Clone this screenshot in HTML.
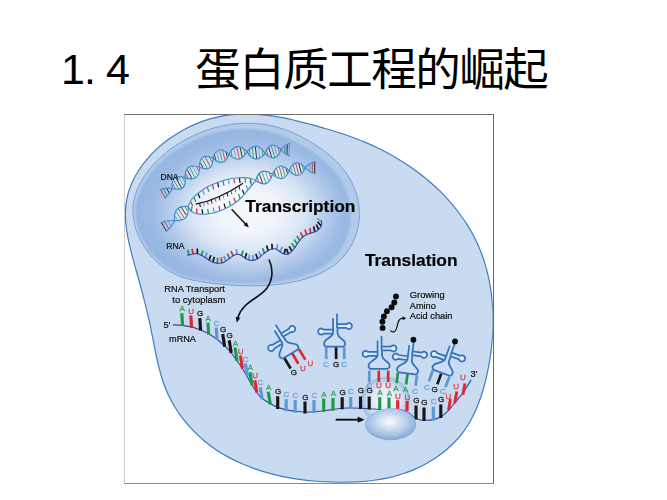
<!DOCTYPE html><html lang="zh"><head><meta charset="utf-8"><title>1.4 蛋白质工程的崛起</title><style>html,body{margin:0;padding:0;background:#fff;}body{width:667px;height:500px;position:relative;overflow:hidden;font-family:"Liberation Sans",sans-serif;}#fig{position:absolute;left:0;top:0;width:667px;height:500px;}#frame{position:absolute;left:123.5px;top:113.6px;width:368.8px;height:368.6px;border-style:solid;border-width:1.1px 1.3px 1.2px 1.1px;border-color:#6f6f6f #666 #8a8a8a #cdcdcd;box-sizing:content-box;}h1{position:absolute;left:64px;top:46px;margin:0;font-weight:normal;font-size:44px;line-height:48px;white-space:pre;color:transparent;}</style></head><body><div id="fig"><svg width="667" height="500" viewBox="0 0 667 500"><defs><radialGradient id="gn" gradientUnits="userSpaceOnUse" cx="251" cy="210" r="117" gradientTransform="translate(251,210) scale(1,0.73) translate(-251,-210)"><stop offset="0" stop-color="#f7f9fd"/><stop offset="0.28" stop-color="#eff4fb"/><stop offset="0.5" stop-color="#dae6f5"/><stop offset="0.7" stop-color="#b5ccea"/><stop offset="0.86" stop-color="#9bbae3"/><stop offset="1" stop-color="#94b6e0"/></radialGradient><filter id="b2" x="-5%" y="-5%" width="110%" height="110%"><feGaussianBlur stdDeviation="1.0"/></filter><radialGradient id="gl" cx="0.5" cy="0.5" r="0.5"><stop offset="0" stop-color="#fff" stop-opacity="0.8"/><stop offset="0.5" stop-color="#e9f0f9" stop-opacity="0.75"/><stop offset="0.78" stop-color="#c6d8ef" stop-opacity="0.85"/><stop offset="0.93" stop-color="#a3c0e4" stop-opacity="0.95"/><stop offset="1" stop-color="#a0bde2" stop-opacity="0.85"/></radialGradient><filter id="b3" x="-10%" y="-10%" width="120%" height="120%"><feGaussianBlur stdDeviation="0.6"/></filter><radialGradient id="gs" cx="0.48" cy="0.42" r="0.55"><stop offset="0" stop-color="#fbfdff"/><stop offset="0.35" stop-color="#d3e2f3"/><stop offset="0.75" stop-color="#a6c3e4"/><stop offset="1" stop-color="#86abd9"/></radialGradient><filter id="bl" x="-5%" y="-5%" width="110%" height="110%"><feGaussianBlur stdDeviation="0.45"/></filter><clipPath id="cp"><rect x="124.5" y="114.7" width="368.3" height="368"/></clipPath></defs><g clip-path="url(#cp)"><g filter="url(#bl)"><path d="M224.5,115.6C229.3,114.8 234.1,114.3 239,114.1C243.8,113.8 248.6,113.9 253.4,114.1C258.2,114.3 263,114.8 267.9,115.4C272.7,116 277.5,116.8 282.3,117.7C287.1,118.6 291.8,119.7 296.6,120.8C301.4,122 306.1,123.2 310.9,124.5C315.6,125.8 320.4,127.1 325.1,128.5C329.8,129.8 334.4,131.2 339.1,132.8C343.8,134.3 348.4,135.8 353,137.5C357.6,139.2 362.1,141 366.6,142.9C371.1,144.8 375.6,146.8 380,149C384.4,151.2 388.8,153.5 393.1,155.9C397.4,158.4 401.6,161 405.7,163.7C409.9,166.4 413.9,169.2 417.9,172.2C421.8,175.2 425.7,178.2 429.4,181.5C433.1,184.7 436.8,188 440.3,191.4C443.7,194.9 447.1,198.5 450.3,202.1C453.5,205.8 456.6,209.6 459.4,213.5C462.3,217.3 465.1,221.3 467.6,225.4C470.2,229.5 472.5,233.7 474.7,238C476.9,242.3 478.9,246.7 480.6,251.2C482.4,255.6 484,260.2 485.3,264.9C486.7,269.5 487.9,274.2 488.9,279C489.9,283.7 490.7,288.6 491.3,293.4C491.9,298.3 492.4,303.2 492.7,308.1C493,313.1 493.1,318 493,323C493,328 492.8,333 492.4,338C492,342.9 491.5,347.9 490.8,352.9C490.2,357.8 489.4,362.8 488.4,367.7C487.5,372.6 486.4,377.5 485.2,382.3C483.9,387.1 482.6,391.9 481,396.5C479.4,401.2 477.7,405.8 475.8,410.2C473.8,414.6 471.6,418.9 469.2,423C466.7,427.1 464,431.1 461.1,434.8C458.1,438.5 454.8,442 451.4,445.3C447.9,448.6 444.2,451.7 440.4,454.6C436.5,457.5 432.4,460.1 428.2,462.5C424,465 419.6,467.2 415.2,469.1C410.7,471.1 406.1,472.8 401.4,474.3C396.8,475.8 392,477.1 387.2,478.1C382.4,479.1 377.5,479.9 372.6,480.5C367.8,481.2 362.8,481.6 357.9,481.9C352.9,482.2 348,482.3 343,482.3C338.1,482.3 333.1,482.1 328.2,481.9C323.3,481.7 318.4,481.4 313.5,481C308.6,480.5 303.7,480 298.8,479.3C293.9,478.6 289.1,477.8 284.2,476.8C279.4,475.8 274.6,474.7 269.8,473.4C265.1,472.1 260.4,470.7 255.7,469.1C251.1,467.5 246.5,465.7 242,463.8C237.5,461.8 233.1,459.7 228.8,457.4C224.6,455.1 220.4,452.6 216.3,449.9C212.3,447.2 208.4,444.3 204.6,441.2C200.9,438.1 197.2,434.7 193.8,431.2C190.4,427.8 187.1,424.1 184.1,420.2C181,416.4 178.2,412.4 175.6,408.2C173,404.1 170.7,399.8 168.6,395.4C166.5,391.1 164.7,386.5 163.2,382C161.6,377.4 160.3,372.7 159.1,368C157.8,363.3 156.8,358.5 155.8,353.7C154.8,348.9 154,344.1 153,339.3C152,334.4 151.1,329.6 150.1,324.8C149.1,320 148,315.3 146.8,310.5C145.7,305.8 144.4,301 143.2,296.3C142,291.5 140.7,286.8 139.4,282C138.1,277.3 136.7,272.5 135.4,267.7C134.1,262.9 132.7,258.1 131.5,253.2C130.3,248.4 129.1,243.6 128.1,238.7C127.2,233.9 126.4,229.1 125.9,224.3C125.5,219.6 125.2,214.8 125.5,210.1C125.7,205.5 126.3,200.8 127.4,196.3C128.4,191.8 130,187.3 131.9,183C133.8,178.6 136.1,174.4 138.7,170.3C141.3,166.2 144.3,162.3 147.5,158.6C150.7,154.8 154.2,151.2 157.9,147.9C161.6,144.5 165.5,141.4 169.6,138.5C173.7,135.6 178,132.9 182.4,130.4C186.8,128 191.4,125.8 196,123.9C200.6,122 205.4,120.3 210.1,118.9C214.9,117.5 219.7,116.4 224.5,115.6Z" fill="#c8dbf0" stroke="#3f7dc2" stroke-width="1.2"/>
<defs><path id="np" d="M133.4,203.3C133.9,199.8 134.8,196.3 136,192.9C137.1,189.5 138.6,186.1 140.3,182.9C142,179.6 144,176.5 146.2,173.5C148.3,170.5 150.7,167.6 153.2,164.8C155.6,162 158.3,159.4 161,156.9C163.8,154.4 166.6,152 169.6,149.8C172.6,147.6 175.7,145.5 178.8,143.5C182,141.5 185.3,139.7 188.6,138C191.9,136.3 195.3,134.7 198.7,133.3C202.1,131.9 205.6,130.6 209.1,129.4C212.6,128.3 216.2,127.3 219.7,126.5C223.3,125.6 226.9,125 230.5,124.4C234.2,123.9 237.8,123.6 241.4,123.4C245.1,123.2 248.7,123.1 252.4,123.3C256,123.4 259.6,123.8 263.2,124.3C266.8,124.8 270.4,125.4 274,126.3C277.5,127.2 281,128.3 284.5,129.5C288,130.7 291.4,132.1 294.8,133.6C298.2,135.1 301.5,136.8 304.8,138.6C308.1,140.4 311.3,142.3 314.4,144.3C317.6,146.3 320.7,148.3 323.6,150.5C326.6,152.7 329.5,155 332.2,157.5C335,159.9 337.6,162.5 340,165.2C342.4,168 344.7,170.9 346.8,173.9C348.8,176.9 350.7,180.1 352.3,183.4C353.9,186.7 355.3,190.2 356.4,193.7C357.4,197.3 358.3,201 358.8,204.6C359.3,208.3 359.5,212 359.4,215.7C359.3,219.4 358.9,223.1 358.2,226.7C357.4,230.3 356.4,233.9 355.1,237.3C353.8,240.7 352.2,244.1 350.3,247.2C348.5,250.3 346.3,253.3 344,256C341.6,258.8 339,261.3 336.3,263.6C333.5,265.8 330.5,267.9 327.3,269.7C324.2,271.6 320.9,273.2 317.5,274.7C314.1,276.1 310.5,277.4 306.9,278.5C303.3,279.7 299.6,280.6 295.9,281.4C292.3,282.3 288.5,282.9 284.8,283.5C281.1,284.1 277.4,284.5 273.8,284.9C270.1,285.2 266.4,285.5 262.8,285.6C259.1,285.8 255.5,285.9 251.8,285.9C248.2,285.8 244.5,285.8 240.9,285.6C237.2,285.5 233.6,285.2 229.9,285C226.3,284.7 222.6,284.4 219,284C215.3,283.6 211.6,283.3 207.9,282.8C204.2,282.3 200.6,281.7 196.9,281C193.3,280.3 189.7,279.5 186.2,278.4C182.7,277.4 179.3,276.2 176,274.7C172.7,273.2 169.4,271.4 166.3,269.4C163.3,267.4 160.3,265.1 157.6,262.6C154.8,260.1 152.2,257.3 149.8,254.4C147.4,251.5 145.2,248.4 143.3,245.2C141.3,242 139.6,238.6 138.2,235.2C136.7,231.8 135.5,228.3 134.7,224.7C133.8,221.2 133.3,217.6 133,214C132.8,210.4 133,206.8 133.4,203.3Z"/><clipPath id="cn"><use href="#np"/></clipPath></defs>
<use href="#np" fill="#b2cbe9"/>
<g clip-path="url(#cn)"><use href="#np" fill="url(#gn)" filter="url(#b2)" transform="translate(-3,1.5) translate(248,206) scale(0.95) translate(-248,-206)"/></g>
<use href="#np" fill="none" stroke="#6f9dd6" stroke-width="0.9"/>
<path d="M172.5,188.3 Q186.9,192.5 185,177.6 M172.5,188.3 Q170.6,173.4 185,177.6 M185,177.6 Q199.6,182.6 199.5,167.2 M185,177.6 Q184.9,162.2 199.5,167.2 M199.5,167.2 Q213.3,173 212.8,158 M199.5,167.2 Q199,152.2 212.8,158 M212.8,158 Q223.8,168.4 229,154.2 M212.8,158 Q218,143.8 229,154.2 M229,154.2 Q239.8,165.4 247,151.6 M229,154.2 Q236.2,140.4 247,151.6 M247,151.6 Q254.6,165.1 265,153.6 M247,151.6 Q257.4,140.1 265,153.6 M265,153.6 Q276.1,163.8 281,149.5 M265,153.6 Q269.9,139.3 281,149.5 M172.5,188.3 Q164.9,187.5 160.2,189.6 M172.5,188.3 Q169.1,195.1 164.8,198 M281,149.5 Q285.5,155.1 289.3,155.8 M281,149.5 Q285.9,144.3 289.7,143.8" fill="#fff" fill-opacity="0.38" stroke="none"/><path d="M172.9,184.3 L175.6,189.2" stroke="#e0262d" stroke-width="1.0" stroke-opacity="0.85"/><path d="M174.1,180.5 L178.9,189.2" stroke="#1f9a48" stroke-width="1.0" stroke-opacity="0.85"/><path d="M176,178 L181.5,187.9" stroke="#151515" stroke-width="1.0" stroke-opacity="0.85"/><path d="M178.6,176.7 L183.4,185.4" stroke="#5b97d6" stroke-width="1.0" stroke-opacity="0.85"/><path d="M181.9,176.7 L184.6,181.6" stroke="#1f9a48" stroke-width="1.0" stroke-opacity="0.85"/><path d="M185.8,173.7 L188.3,178.6" stroke="#e0262d" stroke-width="1.0" stroke-opacity="0.85"/><path d="M187.4,169.9 L191.9,178.6" stroke="#151515" stroke-width="1.0" stroke-opacity="0.85"/><path d="M189.7,167.4 L194.8,177.4" stroke="#1f9a48" stroke-width="1.0" stroke-opacity="0.85"/><path d="M192.6,166.2 L197.1,174.9" stroke="#5b97d6" stroke-width="1.0" stroke-opacity="0.85"/><path d="M196.2,166.2 L198.7,171.1" stroke="#e0262d" stroke-width="1.0" stroke-opacity="0.85"/><path d="M200.4,162.7 L203.2,168.5" stroke="#151515" stroke-width="1.0" stroke-opacity="0.85"/><path d="M202.3,158.8 L207.1,168.4" stroke="#1f9a48" stroke-width="1.0" stroke-opacity="0.85"/><path d="M205.2,156.8 L210,166.4" stroke="#e0262d" stroke-width="1.0" stroke-opacity="0.85"/><path d="M209.1,156.7 L211.9,162.5" stroke="#1f9a48" stroke-width="1.0" stroke-opacity="0.85"/><path d="M214.4,154.8 L215.8,160.1" stroke="#151515" stroke-width="1.0" stroke-opacity="0.85"/><path d="M216.7,152.1 L219.3,161.5" stroke="#5b97d6" stroke-width="1.0" stroke-opacity="0.85"/><path d="M219.4,150.7 L222.4,161.5" stroke="#1f9a48" stroke-width="1.0" stroke-opacity="0.85"/><path d="M222.5,150.7 L225.1,160.1" stroke="#e0262d" stroke-width="1.0" stroke-opacity="0.85"/><path d="M226,152.1 L227.4,157.4" stroke="#151515" stroke-width="1.0" stroke-opacity="0.85"/><path d="M230.9,151.2 L232.2,156.5" stroke="#1f9a48" stroke-width="1.0" stroke-opacity="0.85"/><path d="M233.7,148.6 L235.9,158.1" stroke="#5b97d6" stroke-width="1.0" stroke-opacity="0.85"/><path d="M236.7,147.5 L239.3,158.3" stroke="#e0262d" stroke-width="1.0" stroke-opacity="0.85"/><path d="M240.1,147.7 L242.3,157.2" stroke="#151515" stroke-width="1.0" stroke-opacity="0.85"/><path d="M243.8,149.3 L245.1,154.6" stroke="#1f9a48" stroke-width="1.0" stroke-opacity="0.85"/><path d="M249.3,149.1 L249.9,154.7" stroke="#e0262d" stroke-width="1.0" stroke-opacity="0.85"/><path d="M252.3,147.3 L253.3,157.2" stroke="#1f9a48" stroke-width="1.0" stroke-opacity="0.85"/><path d="M255.4,146.9 L256.6,158.3" stroke="#151515" stroke-width="1.0" stroke-opacity="0.85"/><path d="M258.7,148 L259.7,157.9" stroke="#5b97d6" stroke-width="1.0" stroke-opacity="0.85"/><path d="M262.1,150.5 L262.7,156.1" stroke="#1f9a48" stroke-width="1.0" stroke-opacity="0.85"/><path d="M266.5,150.4 L268,155.6" stroke="#e0262d" stroke-width="1.0" stroke-opacity="0.85"/><path d="M268.8,147.6 L271.5,156.9" stroke="#151515" stroke-width="1.0" stroke-opacity="0.85"/><path d="M271.4,146.2 L274.6,156.9" stroke="#1f9a48" stroke-width="1.0" stroke-opacity="0.85"/><path d="M274.5,146.2 L277.2,155.5" stroke="#5b97d6" stroke-width="1.0" stroke-opacity="0.85"/><path d="M278,147.5 L279.5,152.7" stroke="#e0262d" stroke-width="1.0" stroke-opacity="0.85"/><path d="M169.2,193 L166.8,188.5" stroke="#151515" stroke-width="1.0" stroke-opacity="0.85"/><path d="M167.3,195.9 L163.3,188.7" stroke="#1f9a48" stroke-width="1.0" stroke-opacity="0.85"/><path d="M165,197.6 L160.6,189.6" stroke="#e0262d" stroke-width="1.0" stroke-opacity="0.85"/><path d="M284.9,146.4 L284.7,152.8" stroke="#1f9a48" stroke-width="1.0" stroke-opacity="0.85"/><path d="M287.3,144.6 L286.9,154.8" stroke="#151515" stroke-width="1.0" stroke-opacity="0.85"/><path d="M289.4,144.1 L289,155.5" stroke="#5b97d6" stroke-width="1.0" stroke-opacity="0.85"/><path d="M172.5,188.3 Q186.9,192.5 185,177.6 M172.5,188.3 Q170.6,173.4 185,177.6 M185,177.6 Q199.6,182.6 199.5,167.2 M185,177.6 Q184.9,162.2 199.5,167.2 M199.5,167.2 Q213.3,173 212.8,158 M199.5,167.2 Q199,152.2 212.8,158 M212.8,158 Q223.8,168.4 229,154.2 M212.8,158 Q218,143.8 229,154.2 M229,154.2 Q239.8,165.4 247,151.6 M229,154.2 Q236.2,140.4 247,151.6 M247,151.6 Q254.6,165.1 265,153.6 M247,151.6 Q257.4,140.1 265,153.6 M265,153.6 Q276.1,163.8 281,149.5 M265,153.6 Q269.9,139.3 281,149.5 M172.5,188.3 Q164.9,187.5 160.2,189.6 M172.5,188.3 Q169.1,195.1 164.8,198 M281,149.5 Q285.5,155.1 289.3,155.8 M281,149.5 Q285.9,144.3 289.7,143.8" fill="none" stroke="#3f88cd" stroke-width="1.15" stroke-linecap="round"/>
<path d="M174.7,220.5 Q190,221.8 188,206.5 M174.7,220.5 Q172.7,205.2 188,206.5 M174.7,220.5 Q166.3,220.2 161,222.7 M174.7,220.5 Q170.8,228 166,231.3" fill="#fff" fill-opacity="0.38" stroke="none"/><path d="M175.2,216.2 L178,220.8" stroke="#5b97d6" stroke-width="1.0" stroke-opacity="0.85"/><path d="M176.4,212 L181.5,220" stroke="#1f9a48" stroke-width="1.0" stroke-opacity="0.85"/><path d="M178.4,208.9 L184.3,218.1" stroke="#e0262d" stroke-width="1.0" stroke-opacity="0.85"/><path d="M181.2,207 L186.3,215" stroke="#151515" stroke-width="1.0" stroke-opacity="0.85"/><path d="M184.7,206.2 L187.5,210.8" stroke="#1f9a48" stroke-width="1.0" stroke-opacity="0.85"/><path d="M171,225.7 L168.3,221.1" stroke="#5b97d6" stroke-width="1.0" stroke-opacity="0.85"/><path d="M168.8,228.9 L164.5,221.5" stroke="#e0262d" stroke-width="1.0" stroke-opacity="0.85"/><path d="M166.2,230.9 L161.5,222.7" stroke="#151515" stroke-width="1.0" stroke-opacity="0.85"/><path d="M174.7,220.5 Q190,221.8 188,206.5 M174.7,220.5 Q172.7,205.2 188,206.5 M174.7,220.5 Q166.3,220.2 161,222.7 M174.7,220.5 Q170.8,228 166,231.3" fill="none" stroke="#3f88cd" stroke-width="1.15" stroke-linecap="round"/>
<path d="M255.6,180.8 Q268.6,189.2 272.4,174.2 M255.6,180.8 Q259.4,165.8 272.4,174.2 M272.4,174.2 Q283.4,184.7 289.2,170.6 M272.4,174.2 Q278.2,160.1 289.2,170.6 M289.2,170.6 Q299.6,181.5 305.3,167.6 M289.2,170.6 Q294.9,156.7 305.3,167.6 M305.3,167.6 Q310.6,172.8 315,173.4 M305.3,167.6 Q310.6,162.4 315,161.8" fill="#fff" fill-opacity="0.38" stroke="none"/><path d="M257.1,177.3 L258.9,182.4" stroke="#e0262d" stroke-width="1.0" stroke-opacity="0.85"/><path d="M259.4,174.1 L262.6,183.2" stroke="#151515" stroke-width="1.0" stroke-opacity="0.85"/><path d="M262.1,172.3 L265.9,182.7" stroke="#1f9a48" stroke-width="1.0" stroke-opacity="0.85"/><path d="M265.4,171.8 L268.6,180.9" stroke="#5b97d6" stroke-width="1.0" stroke-opacity="0.85"/><path d="M269.1,172.6 L270.9,177.7" stroke="#e0262d" stroke-width="1.0" stroke-opacity="0.85"/><path d="M274.1,171.1 L275.5,176.3" stroke="#151515" stroke-width="1.0" stroke-opacity="0.85"/><path d="M276.5,168.3 L279.1,177.7" stroke="#1f9a48" stroke-width="1.0" stroke-opacity="0.85"/><path d="M279.4,167 L282.2,177.8" stroke="#e0262d" stroke-width="1.0" stroke-opacity="0.85"/><path d="M282.5,167.1 L285.1,176.5" stroke="#1f9a48" stroke-width="1.0" stroke-opacity="0.85"/><path d="M286.1,168.5 L287.5,173.7" stroke="#151515" stroke-width="1.0" stroke-opacity="0.85"/><path d="M290.8,167.5 L292.2,172.8" stroke="#5b97d6" stroke-width="1.0" stroke-opacity="0.85"/><path d="M293.2,164.9 L295.6,174.3" stroke="#1f9a48" stroke-width="1.0" stroke-opacity="0.85"/><path d="M295.9,163.7 L298.6,174.5" stroke="#e0262d" stroke-width="1.0" stroke-opacity="0.85"/><path d="M298.9,163.9 L301.3,173.3" stroke="#151515" stroke-width="1.0" stroke-opacity="0.85"/><path d="M302.3,165.4 L303.7,170.7" stroke="#1f9a48" stroke-width="1.0" stroke-opacity="0.85"/><path d="M309.7,164.5 L309.7,170.7" stroke="#5b97d6" stroke-width="1.0" stroke-opacity="0.85"/><path d="M312.3,162.6 L312.3,172.6" stroke="#e0262d" stroke-width="1.0" stroke-opacity="0.85"/><path d="M314.7,162.1 L314.7,173.1" stroke="#151515" stroke-width="1.0" stroke-opacity="0.85"/><path d="M255.6,180.8 Q268.6,189.2 272.4,174.2 M255.6,180.8 Q259.4,165.8 272.4,174.2 M272.4,174.2 Q283.4,184.7 289.2,170.6 M272.4,174.2 Q278.2,160.1 289.2,170.6 M289.2,170.6 Q299.6,181.5 305.3,167.6 M289.2,170.6 Q294.9,156.7 305.3,167.6 M305.3,167.6 Q310.6,172.8 315,173.4 M305.3,167.6 Q310.6,162.4 315,161.8" fill="none" stroke="#3f88cd" stroke-width="1.15" stroke-linecap="round"/>
<path d="M188,206.5C188.7,205.2 190.1,201.4 192,199C193.9,196.6 196.8,194.3 199.5,192.2C202.2,190.1 205,188.1 208,186.5C211,184.9 214.3,183.7 217.5,182.5C220.7,181.3 224,180.2 227,179.5C230,178.8 232.7,178.3 235.5,178C238.3,177.7 241.4,177.5 244,177.6C246.6,177.7 249.1,178 251,178.5C252.9,179 254.8,180.4 255.6,180.8 L255.6,180.8C255,181.5 253.3,183.4 252,185C250.7,186.6 249.3,188.3 247.5,190.5C245.7,192.7 243.1,195.9 241,198C238.9,200.1 237.2,201.4 235,203C232.8,204.6 230.3,206.1 228,207.3C225.7,208.6 223.5,209.6 221,210.5C218.5,211.4 215.5,212.4 213,213C210.5,213.6 208.5,214 206,214.2C203.5,214.3 200.4,214.3 198,213.9C195.6,213.5 193.2,212.7 191.5,211.5C189.8,210.3 188.6,207.3 188,206.5" fill="#fff" fill-opacity="0.35"/>
<path d="M190.6,201.6 L192.8,206.1" stroke="#e0262d" stroke-width="1.2"/><path d="M194,197.2 L195.7,201.9" stroke="#1f9a48" stroke-width="1.2"/><path d="M198.2,193.4 L199.9,198.1" stroke="#151515" stroke-width="1.2"/><path d="M202.7,190.1 L204.2,194.8" stroke="#5b97d6" stroke-width="1.2"/><path d="M207.3,187 L208.8,191.7" stroke="#1f9a48" stroke-width="1.2"/><path d="M212.4,184.6 L213.7,189.5" stroke="#e0262d" stroke-width="1.2"/><path d="M217.6,182.5 L218.7,187.4" stroke="#151515" stroke-width="1.2"/><path d="M222.9,180.8 L224,185.7" stroke="#1f9a48" stroke-width="1.2"/><path d="M228.3,179.3 L229.2,184.2" stroke="#5b97d6" stroke-width="1.2"/><path d="M233.8,178.3 L234.7,183.2" stroke="#e0262d" stroke-width="1.2"/><path d="M239.4,177.8 L240.1,182.8" stroke="#151515" stroke-width="1.2"/><path d="M245,177.7 L245.5,182.7" stroke="#1f9a48" stroke-width="1.2"/><path d="M250.5,178.4 L251,183.4" stroke="#e0262d" stroke-width="1.2"/>
<path d="M191.4,211.3 L192,206.4" stroke="#1f9a48" stroke-width="1.2"/><path d="M196.9,213.5 L196.7,208.5" stroke="#e0262d" stroke-width="1.2"/><path d="M202.7,214.1 L202.1,209.1" stroke="#151515" stroke-width="1.2"/><path d="M208.6,213.8 L207.7,208.8" stroke="#1f9a48" stroke-width="1.2"/><path d="M214.4,212.6 L213.3,207.7" stroke="#5b97d6" stroke-width="1.2"/><path d="M220,210.8 L218.9,205.9" stroke="#e0262d" stroke-width="1.2"/><path d="M225.4,208.5 L224.1,203.6" stroke="#151515" stroke-width="1.2"/><path d="M230.6,205.7 L229.2,200.9" stroke="#1f9a48" stroke-width="1.2"/><path d="M235.6,202.5 L233.9,197.8" stroke="#e0262d" stroke-width="1.2"/><path d="M240.2,198.7 L238.5,194" stroke="#1f9a48" stroke-width="1.2"/><path d="M244.2,194.4 L242.3,189.7" stroke="#151515" stroke-width="1.2"/><path d="M248,189.9 L246.1,185.3" stroke="#5b97d6" stroke-width="1.2"/><path d="M251.8,185.3 L249.8,180.7" stroke="#1f9a48" stroke-width="1.2"/>
<path d="M188,206.5C188.7,205.2 190.1,201.4 192,199C193.9,196.6 196.8,194.3 199.5,192.2C202.2,190.1 205,188.1 208,186.5C211,184.9 214.3,183.7 217.5,182.5C220.7,181.3 224,180.2 227,179.5C230,178.8 232.7,178.3 235.5,178C238.3,177.7 241.4,177.5 244,177.6C246.6,177.7 249.1,178 251,178.5C252.9,179 254.8,180.4 255.6,180.8" fill="none" stroke="#4a8ccf" stroke-width="1.2"/>
<path d="M188,206.5C188.6,207.3 189.8,210.3 191.5,211.5C193.2,212.7 195.6,213.5 198,213.9C200.4,214.3 203.5,214.3 206,214.2C208.5,214 210.5,213.6 213,213C215.5,212.4 218.5,211.4 221,210.5C223.5,209.6 225.7,208.6 228,207.3C230.3,206.1 232.8,204.6 235,203C237.2,201.4 238.9,200.1 241,198C243.1,195.9 245.7,192.7 247.5,190.5C249.3,188.3 250.7,186.6 252,185C253.3,183.4 255,181.5 255.6,180.8" fill="none" stroke="#4a8ccf" stroke-width="1.2"/>
<path d="M195.7,204.2 Q219,199.5 243,183.2" fill="none" stroke="#111" stroke-width="1.3"/>
<path d="M199.6,203.3 l0.8,3.8" stroke="#151515" stroke-width="1.0"/><path d="M203.5,202.3 l0.8,3.8" stroke="#5b97d6" stroke-width="1.0"/><path d="M207.4,201.1 l0.8,3.8" stroke="#e0262d" stroke-width="1.0"/><path d="M211.3,199.8 l0.8,3.8" stroke="#151515" stroke-width="1.0"/><path d="M215.2,198.3 l0.8,3.8" stroke="#1f9a48" stroke-width="1.0"/><path d="M219.2,196.6 l0.8,3.8" stroke="#151515" stroke-width="1.0"/><path d="M223.1,194.8 l0.8,3.8" stroke="#5b97d6" stroke-width="1.0"/><path d="M227.1,192.8 l0.8,3.8" stroke="#151515" stroke-width="1.0"/><path d="M231,190.6 l0.8,3.8" stroke="#e0262d" stroke-width="1.0"/><path d="M235,188.3 l0.8,3.8" stroke="#1f9a48" stroke-width="1.0"/><path d="M239,185.8 l0.8,3.8" stroke="#151515" stroke-width="1.0"/>
<path d="M188.7,255.5 L187.9,249.9" stroke="#1f9a48" stroke-width="1.7"/><path d="M193,254.4 L192.2,248.8" stroke="#e0262d" stroke-width="1.7"/><path d="M197.4,254.2 L197.3,248.5" stroke="#151515" stroke-width="1.7"/><path d="M201.3,256 L202.9,250.5" stroke="#1f9a48" stroke-width="1.7"/><path d="M205.3,258 L206.9,252.6" stroke="#5b97d6" stroke-width="1.7"/><path d="M208.9,260.5 L210.9,255.2" stroke="#151515" stroke-width="1.7"/><path d="M212.9,262.5 L214.3,256.9" stroke="#151515" stroke-width="1.7"/><path d="M217.3,263.4 L217.7,257.7" stroke="#1f9a48" stroke-width="1.7"/><path d="M221.8,263.2 L221.3,257.5" stroke="#e0262d" stroke-width="1.7"/><path d="M225.9,261.4 L223.9,256" stroke="#5b97d6" stroke-width="1.7"/><path d="M229.6,258.9 L227.6,253.6" stroke="#1f9a48" stroke-width="1.7"/><path d="M233.2,256.2 L231,251" stroke="#e0262d" stroke-width="1.7"/><path d="M237.2,254.8 L236.2,249.2" stroke="#5b97d6" stroke-width="1.7"/><path d="M241.2,255.9 L243.2,250.6" stroke="#1f9a48" stroke-width="1.7"/><path d="M244.9,258.4 L246.7,253" stroke="#151515" stroke-width="1.7"/><path d="M248.9,260.3 L249.4,254.7" stroke="#5b97d6" stroke-width="1.7"/><path d="M253.4,260.5 L252.7,254.9" stroke="#5b97d6" stroke-width="1.7"/><path d="M257.6,259.1 L255.8,253.7" stroke="#151515" stroke-width="1.7"/><path d="M261.2,256.4 L258.7,251.3" stroke="#5b97d6" stroke-width="1.7"/><path d="M264.6,253.5 L262.4,248.2" stroke="#1f9a48" stroke-width="1.7"/><path d="M268.2,251 L266.6,245.6" stroke="#151515" stroke-width="1.7"/><path d="M272.2,249.5 L271.9,243.8" stroke="#151515" stroke-width="1.7"/><path d="M276.4,249.9 L277.8,244.4" stroke="#5b97d6" stroke-width="1.7"/><path d="M280,252.2 L282.2,247" stroke="#5b97d6" stroke-width="1.7"/><path d="M284.1,254.2 L285.4,248.7" stroke="#151515" stroke-width="1.7"/><path d="M288.5,254.2 L286.5,248.9" stroke="#151515" stroke-width="1.7"/><path d="M292,251.4 L289.2,246.4" stroke="#151515" stroke-width="1.7"/><path d="M295,248 L291.7,243.3" stroke="#1f9a48" stroke-width="1.7"/><path d="M297.4,244.3 L294.2,239.6" stroke="#1f9a48" stroke-width="1.7"/><path d="M300,240.7 L296.9,235.9" stroke="#1f9a48" stroke-width="1.7"/><path d="M303,237.5 L300.5,232.4" stroke="#e0262d" stroke-width="1.7"/><path d="M306.6,235.1 L305,229.6" stroke="#e0262d" stroke-width="1.7"/><path d="M310.7,233.5 L309.8,227.9" stroke="#e0262d" stroke-width="1.7"/><path d="M314.9,232 L313.6,226.5" stroke="#151515" stroke-width="1.7"/><path d="M318.7,229.7 L316.3,224.5" stroke="#151515" stroke-width="1.7"/><path d="M321.3,226 L317.6,221.7" stroke="#151515" stroke-width="1.7"/><path d="M321.8,221.6 L317.1,218.4" stroke="#5b97d6" stroke-width="1.7"/>
<path d="M187.5,255.4C188.4,255.2 191.2,254.3 193,254C194.8,253.7 195.9,253.2 198,253.8C200.1,254.4 203.5,256.5 205.5,257.7C207.5,258.9 208.5,260 210,260.8C211.5,261.6 213,262.3 214.5,262.7C216,263.1 217.5,263.2 219,263.2C220.5,263.2 221.8,263.3 223.5,262.5C225.2,261.7 227.8,259.7 229.5,258.5C231.2,257.3 232.1,256.2 233.5,255.5C234.9,254.8 236.4,254.2 237.7,254.2C238.9,254.2 239.9,254.7 241,255.3C242.1,255.9 243.3,256.9 244.5,257.7C245.7,258.4 246.8,259.4 248,259.8C249.2,260.2 250.7,260.4 252,260.4C253.3,260.4 254.8,260.1 256,259.6C257.2,259.1 258.3,258.4 259.5,257.5C260.7,256.6 261.8,255.2 263,254.2C264.2,253.1 265.7,252 267,251.2C268.3,250.4 269.7,249.6 271,249.2C272.3,248.8 273.8,248.6 275,248.8C276.2,249 277,249.6 278,250.2C279,250.8 279.9,251.9 281,252.5C282.1,253.1 283.4,253.7 284.5,254C285.6,254.3 286.6,254.6 287.7,254.3C288.8,254 289.9,253.1 291,252C292.1,250.9 293.4,249.4 294.5,248C295.6,246.6 296.5,244.9 297.5,243.5C298.5,242.1 299.4,240.6 300.5,239.3C301.6,238.1 302.8,236.9 304,236C305.2,235.1 306.6,234.5 308,233.9C309.4,233.3 311,233.1 312.5,232.6C314,232.1 315.8,231.5 317,230.7C318.2,229.9 319.2,229 320,228C320.8,227 321.2,226 321.5,224.7C321.8,223.4 321.5,221.1 321.5,220.4" fill="none" stroke="#3b3fa8" stroke-width="1.1"/>
<path d="M231.6,209.2 L246,224.5" stroke="#111" stroke-width="1.5" fill="none"/>
<path d="M248.8,227.6 L243.7,225.3 L246.9,222.3 Z" fill="#111"/>
<path d="M269,259.5 C273,268 273.5,279 267,288 C259,299 243,301 237.6,318" stroke="#111" stroke-width="1.6" fill="none"/>
<path d="M236.8,322.6 L235.6,316.7 L240.4,317.8 Z" fill="#111"/>
<path d="M335.7,419.7 L359,419.7" stroke="#111" stroke-width="1.9" fill="none"/>
<path d="M364.5,419.7 L357.7,422.8 L357.7,416.6 Z" fill="#111"/>
<path d="M390.2,330.6 C393,333 396,332 397,327 C398,322 398.5,318.5 403,318.2" stroke="#111" stroke-width="1.25" fill="none"/>
<path d="M406.3,318.2 L402.6,320.2 L402.6,316.2 Z" fill="#111"/>
<ellipse cx="385.5" cy="400.5" rx="24.6" ry="23.8" fill="url(#gl)"/>
<path d="M172.7,324.8C174.2,324.9 178.9,325 182,325.4C185.1,325.8 188.4,326.1 191.5,326.9C194.6,327.7 197.5,328.8 200.5,330C203.5,331.2 206.8,332.6 209.5,334.2C212.2,335.8 214.5,337.4 217,339.3C219.5,341.2 222.2,343.7 224.5,345.8C226.8,347.9 228.6,349.7 230.5,352C232.4,354.3 234.2,357 236,359.5C237.8,362 239.7,364.4 241.4,367C243.1,369.6 244.8,372.4 246.4,375.2C248,377.9 249.4,380.9 251,383.5C252.6,386.1 254.1,388.6 255.8,391C257.5,393.4 258.9,395.6 261.2,397.6C263.4,399.6 266.6,401.4 269.3,403C272.1,404.6 274.9,406.2 277.7,407.3C280.5,408.4 283.3,409.2 286.2,409.9C289.1,410.6 292.1,410.9 295.2,411.3C298.3,411.7 301.9,412.1 305,412.2C308.1,412.3 310.9,412.1 314,411.8C317.1,411.6 320.5,411.1 323.7,410.7C326.9,410.3 329.9,409.9 333,409.5C336.1,409.1 339.2,408.4 342.2,408.2C345.1,407.9 347.6,408 350.7,408C353.8,408 357.4,408.1 360.5,408.2C363.6,408.3 366,408.6 369.2,408.8C372.4,409 376.4,409.4 379.7,409.5C383,409.6 386,409.5 389,409.5C392,409.5 394.7,409 397.7,409.4C400.7,409.8 403.9,410.5 407,412C410.1,413.5 413.2,417 416,418.4C418.8,419.8 421.1,420 424,420.2C426.9,420.4 430.5,420.2 433.3,419.6C436.1,419 438.2,418.4 440.8,416.8C443.4,415.2 446.6,412.2 449,409.8C451.4,407.4 452.9,405.1 455.3,402.2C457.7,399.3 460.6,396.2 463.2,392.5C465.8,388.8 469.9,381.8 471.2,379.7" fill="none" stroke="#3b3fa8" stroke-width="1.1"/>
<path d="M181.8,313.2 L182.6,326" stroke="#1f9a48" stroke-width="3.15"/><path d="M190.8,315.5 L191.6,327.8" stroke="#e0262d" stroke-width="3.15"/><path d="M199.8,318.2 L200.6,330.5" stroke="#151515" stroke-width="3.15"/><path d="M207.9,322.7 L208.7,334.7" stroke="#1f9a48" stroke-width="3.15"/><path d="M216.3,327.5 L217.1,340.2" stroke="#5b97d6" stroke-width="3.15"/><path d="M222.7,334 L224.7,346.7" stroke="#151515" stroke-width="3.15"/><path d="M229.2,340.2 L231.2,353" stroke="#151515" stroke-width="3.15"/><path d="M235,347.6 L237,361" stroke="#1f9a48" stroke-width="3.15"/><path d="M240.4,355.5 L242.4,368.5" stroke="#e0262d" stroke-width="3.15"/><path d="M245.4,363.5 L247.4,376.7" stroke="#5b97d6" stroke-width="3.15"/><path d="M250,372.2 L252,385" stroke="#1f9a48" stroke-width="3.15"/><path d="M254.8,380.2 L256.8,392.5" stroke="#e0262d" stroke-width="3.15"/><path d="M260.2,387.2 L262.2,399.2" stroke="#5b97d6" stroke-width="3.15"/><path d="M268.3,391.7 L270.3,404.5" stroke="#1f9a48" stroke-width="3.15"/><path d="M277.7,396.2 L277.7,409" stroke="#151515" stroke-width="3.15"/><path d="M286.2,399.2 L286.2,411.2" stroke="#5b97d6" stroke-width="3.15"/><path d="M295.2,400 L295.2,412.7" stroke="#5b97d6" stroke-width="3.15"/><path d="M305,401.5 L305,413.5" stroke="#151515" stroke-width="3.15"/><path d="M314,400 L314,413" stroke="#5b97d6" stroke-width="3.15"/><path d="M323.7,398.6 L323.7,412" stroke="#1f9a48" stroke-width="3.15"/><path d="M333,398 L333,410.7" stroke="#1f9a48" stroke-width="3.15"/><path d="M342.2,397.2 L342.2,409.2" stroke="#151515" stroke-width="3.15"/><path d="M350.7,397 L350.7,408.2" stroke="#5b97d6" stroke-width="3.15"/><path d="M360.5,396.5 L360.5,408.9" stroke="#151515" stroke-width="3.15"/><path d="M369.2,396.5 L369.2,409.4" stroke="#151515" stroke-width="3.15"/><path d="M379.7,397.2 L379.7,409.2" stroke="#1f9a48" stroke-width="3.15"/><path d="M389,397.5 L389,409" stroke="#1f9a48" stroke-width="3.15"/><path d="M397.7,400.2 L397.7,410" stroke="#e0262d" stroke-width="3.15"/><path d="M407,401 L407,411" stroke="#e0262d" stroke-width="3.15"/><path d="M416,405.5 L416,419.5" stroke="#151515" stroke-width="3.15"/><path d="M424,407.5 L424,421" stroke="#151515" stroke-width="3.15"/><path d="M433.3,406.7 L433.3,420.5" stroke="#5b97d6" stroke-width="3.15"/><path d="M440.8,404.5 L440.8,418" stroke="#151515" stroke-width="3.15"/><path d="M448.6,410 L450.4,399" stroke="#e0262d" stroke-width="2.9"/><path d="M454.6,403.2 L456.8,391.6" stroke="#e0262d" stroke-width="2.9"/><path d="M462.9,394.8 L464.9,383.4" stroke="#e0262d" stroke-width="2.9"/>
<defs><g id="trna"><g fill="none" stroke-linecap="butt"><path d="M0,-12 V3 M1.5,-3.2 H11 M-1,2.3 H-11" stroke="#d6e4f5" stroke-width="3.2"/><circle cx="13.9" cy="-3.2" r="3.1" fill="#e1ebf8"/><circle cx="-13.9" cy="2.3" r="3.1" fill="#e1ebf8"/><path d="M-1.9,4.3 C-3.5,8 -9,9.5 -10.5,12.5 C-11.4,14.6 -11,17.3 -8.3,17.3 H7.4 C10.1,17.3 10.6,14.6 9.7,12.6 C8.4,9.8 3.2,8.6 2.5,4 V-1.3 H-1.9Z" fill="#cbddf1" stroke="none"/><path d="M2,-15.5 V-1.3 M-1.9,-11 V4.3 M2,-5.1 H11.45 A3.1,3.1 0 1 1 11.45,-1.3 H2.4 M-1.9,0.3 H-11.45 A3.1,3.1 0 1 0 -11.45,4.3 H-1.9 M-1.9,4.3 C-3.5,8 -9,9.5 -10.5,12.5 C-11.4,14.6 -11,17.3 -8.3,17.3 H7.4 C10.1,17.3 10.6,14.6 9.7,12.6 C8.4,9.8 3.2,8.6 2.5,4 V-1.3" stroke="#3173bc" stroke-width="1.75" stroke-linejoin="round"/></g></g></defs>
<path d="M284.3,358 L290.6,368.5" stroke="#151515" stroke-width="2.7"/><path d="M292.1,353.3 L298.4,363.8" stroke="#e0262d" stroke-width="2.7"/><path d="M299,349.1 L305.3,359.6" stroke="#e0262d" stroke-width="2.7"/><use href="#trna" transform="translate(281.9,338.9) rotate(-31)"/>
<path d="M326.2,346.9 L326.2,359.1" stroke="#5b97d6" stroke-width="2.7"/><path d="M336.1,346.9 L336.1,359.1" stroke="#151515" stroke-width="2.7"/><path d="M344.2,346.9 L344.2,359.1" stroke="#5b97d6" stroke-width="2.7"/><use href="#trna" transform="translate(335,329.3) rotate(0)"/>
<path d="M369.3,370.6 L369.3,382.1" stroke="#5b97d6" stroke-width="2.7"/><path d="M378.8,370.6 L378.8,382.1" stroke="#e0262d" stroke-width="2.7"/><path d="M388.2,370.6 L388.2,382.1" stroke="#e0262d" stroke-width="2.7"/><use href="#trna" transform="translate(379.5,351.6) rotate(0)"/>
<path d="M397.9,372.8 L396.6,383.2" stroke="#1f9a48" stroke-width="2.7"/><path d="M407.5,374 L406.1,384.5" stroke="#1f9a48" stroke-width="2.7"/><path d="M417,375.3 L415.6,385.7" stroke="#5b97d6" stroke-width="2.7"/><use href="#trna" transform="translate(409.8,356.2) rotate(7.5)"/><circle cx="413.4" cy="339.7" r="2.9" fill="#0b0b0b"/>
<path d="M432.7,370.6 L428.9,381.2" stroke="#5b97d6" stroke-width="2.7"/><path d="M441.2,373.6 L437.3,384.2" stroke="#151515" stroke-width="2.7"/><path d="M449.4,376.6 L445.5,387.2" stroke="#5b97d6" stroke-width="2.7"/><use href="#trna" transform="translate(447.9,356.7) rotate(20)"/><circle cx="455" cy="341.4" r="2.9" fill="#0b0b0b"/>
<circle cx="396" cy="296.5" r="2.95" fill="#0b0b0b"/>
<circle cx="394.3" cy="302.5" r="2.95" fill="#0b0b0b"/>
<circle cx="391.6" cy="307.3" r="2.95" fill="#0b0b0b"/>
<circle cx="386.9" cy="311.3" r="2.95" fill="#0b0b0b"/>
<circle cx="383.9" cy="316.4" r="2.95" fill="#0b0b0b"/>
<circle cx="382.4" cy="321.8" r="2.95" fill="#0b0b0b"/>
<circle cx="382.6" cy="327.9" r="2.95" fill="#0b0b0b"/>
<ellipse cx="390.6" cy="424.3" rx="25.6" ry="16" fill="url(#gs)" filter="url(#b3)"/>
<g font-size="8" stroke-width="0.3" text-anchor="middle" font-family="Liberation Sans, sans-serif"><text x="182.1" y="311.3" fill="#3aa860" stroke="#3aa860">A</text><text x="191.1" y="313.6" fill="#e0464d" stroke="#e0464d">U</text><text x="200.1" y="316.3" fill="#222" stroke="#222">G</text><text x="208.2" y="320.8" fill="#3aa860" stroke="#3aa860">A</text><text x="216.6" y="325.6" fill="#6aa3dc" stroke="#6aa3dc">C</text><text x="223" y="332.1" fill="#222" stroke="#222">G</text><text x="229.5" y="338.3" fill="#222" stroke="#222">G</text><text x="235.3" y="345.7" fill="#3aa860" stroke="#3aa860">A</text><text x="240.7" y="353.6" fill="#e0464d" stroke="#e0464d">U</text><text x="245.7" y="361.6" fill="#6aa3dc" stroke="#6aa3dc">C</text><text x="250.3" y="370.3" fill="#3aa860" stroke="#3aa860">A</text><text x="255.1" y="378.3" fill="#e0464d" stroke="#e0464d">U</text><text x="260.5" y="385.3" fill="#6aa3dc" stroke="#6aa3dc">C</text><text x="268.6" y="389.8" fill="#3aa860" stroke="#3aa860">A</text><text x="278" y="394.3" fill="#222" stroke="#222">G</text><text x="286.5" y="397.3" fill="#6aa3dc" stroke="#6aa3dc">C</text><text x="295.5" y="398.1" fill="#6aa3dc" stroke="#6aa3dc">C</text><text x="305.3" y="399.6" fill="#222" stroke="#222">G</text><text x="314.3" y="398.1" fill="#6aa3dc" stroke="#6aa3dc">C</text><text x="324" y="396.7" fill="#3aa860" stroke="#3aa860">A</text><text x="333.3" y="396.1" fill="#3aa860" stroke="#3aa860">A</text><text x="342.5" y="394.7" fill="#222" stroke="#222">G</text><text x="351" y="394.3" fill="#6aa3dc" stroke="#6aa3dc">C</text><text x="360.8" y="393.4" fill="#222" stroke="#222">G</text><text x="369.5" y="393.3" fill="#222" stroke="#222">G</text><text x="380" y="395.3" fill="#3aa860" stroke="#3aa860">A</text><text x="389.3" y="395.6" fill="#3aa860" stroke="#3aa860">A</text><text x="398" y="398.8" fill="#e0464d" stroke="#e0464d">U</text><text x="407.3" y="400" fill="#e0464d" stroke="#e0464d">U</text><text x="416.3" y="402.6" fill="#222" stroke="#222">G</text><text x="424.3" y="404.6" fill="#222" stroke="#222">G</text><text x="433.6" y="403.8" fill="#6aa3dc" stroke="#6aa3dc">C</text><text x="441.1" y="401.6" fill="#222" stroke="#222">G</text><text x="448.3" y="398.5" fill="#e0464d" stroke="#e0464d">U</text><text x="456.2" y="388.6" fill="#e0464d" stroke="#e0464d">U</text><text x="463" y="380" fill="#e0464d" stroke="#e0464d">U</text><text x="293.9" y="374.6" fill="#222" stroke="#222">G</text><text x="302.8" y="370.8" fill="#e0464d" stroke="#e0464d">U</text><text x="310.3" y="366.2" fill="#e0464d" stroke="#e0464d">U</text><text x="326.2" y="367" fill="#6aa3dc" stroke="#6aa3dc">C</text><text x="336.1" y="367" fill="#222" stroke="#222">G</text><text x="344.2" y="367" fill="#6aa3dc" stroke="#6aa3dc">C</text><text x="369.3" y="388.3" fill="#6aa3dc" stroke="#6aa3dc">C</text><text x="378.8" y="388.3" fill="#e0464d" stroke="#e0464d">U</text><text x="388.2" y="388.3" fill="#e0464d" stroke="#e0464d">U</text><text x="395.9" y="391.1" fill="#3aa860" stroke="#3aa860">A</text><text x="405.4" y="392.3" fill="#3aa860" stroke="#3aa860">A</text><text x="414.9" y="393.6" fill="#6aa3dc" stroke="#6aa3dc">C</text><text x="427" y="390.2" fill="#6aa3dc" stroke="#6aa3dc">C</text><text x="434.6" y="391.7" fill="#222" stroke="#222">G</text><text x="442.8" y="393.9" fill="#6aa3dc" stroke="#6aa3dc">C</text></g>
<g font-family="Liberation Sans, sans-serif" stroke="#111" stroke-width="0.22"><text x="160.5" y="179.8" font-size="8.8" font-weight="normal" fill="#111" textLength="18" lengthAdjust="spacingAndGlyphs">DNA</text><text x="166.3" y="249.2" font-size="8.9" font-weight="normal" fill="#111" textLength="18.2" lengthAdjust="spacingAndGlyphs">RNA</text><text x="164.3" y="292.2" font-size="9.4" font-weight="normal" fill="#111" textLength="60.6" lengthAdjust="spacingAndGlyphs">RNA Transport</text><text x="172.3" y="302.9" font-size="9.3" font-weight="normal" fill="#111" textLength="53.2" lengthAdjust="spacingAndGlyphs">to cytoplasm</text><text x="163.4" y="328.4" font-size="9.2" font-weight="normal" fill="#111">5'</text><text x="470.4" y="376.8" font-size="9.2" font-weight="normal" fill="#111">3'</text><text x="169" y="341.8" font-size="9.2" font-weight="normal" fill="#111" textLength="27" lengthAdjust="spacingAndGlyphs">mRNA</text><text x="409.8" y="298.2" font-size="9.2" font-weight="normal" fill="#111" textLength="34.8" lengthAdjust="spacingAndGlyphs">Growing</text><text x="409.8" y="308.7" font-size="9.2" font-weight="normal" fill="#111">Amino</text><text x="409.8" y="319.4" font-size="9.2" font-weight="normal" fill="#111" textLength="42.5" lengthAdjust="spacingAndGlyphs">Acid chain</text><text x="245.3" y="211.5" font-size="17.3" font-weight="bold" fill="#050505" textLength="110.2" lengthAdjust="spacingAndGlyphs">Transcription</text><text x="364.9" y="266" font-size="17.3" font-weight="bold" fill="#050505" textLength="92.6" lengthAdjust="spacingAndGlyphs">Translation</text></g></g></g><g fill="#000"><text x="61 84 106" y="83.5" font-size="43" font-family="'Liberation Sans', 'Noto Sans CJK SC', sans-serif">1.4</text><text x="195.2 239.2 283.2 327.2 371.2 415.2 459.2 503.2" y="85.8" font-size="45.5" font-family="'Liberation Sans', 'Noto Sans CJK SC', sans-serif">蛋白质工程的崛起</text></g></svg></div><div id="frame"></div><h1>1.4   蛋白质工程的崛起</h1></body></html>
